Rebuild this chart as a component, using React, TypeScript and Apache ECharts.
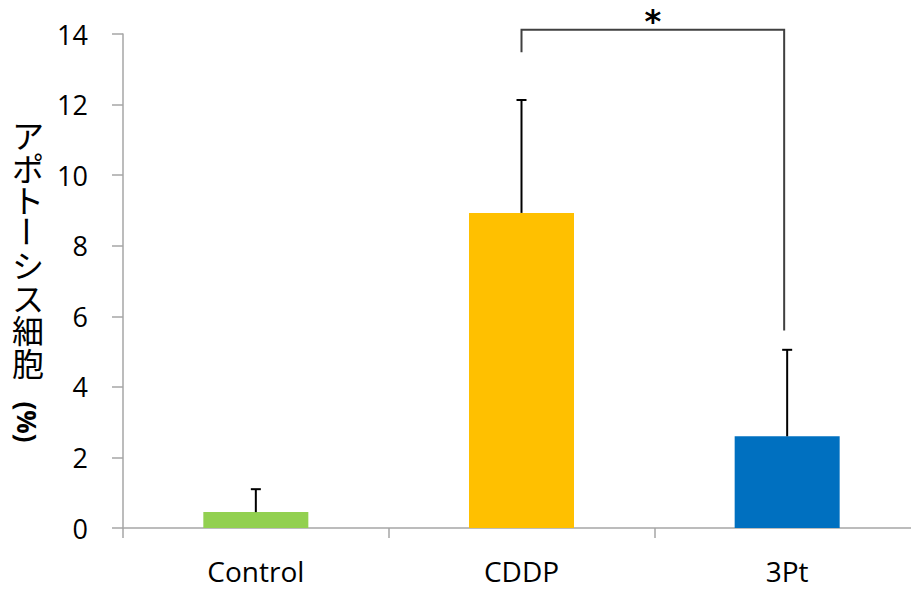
import React, { useEffect, useRef } from "react";
import * as echarts from "echarts";

const categories = ["Control", "CDDP", "3Pt"];
const values = [0.45, 8.93, 2.6];
const errorTops = [1.1, 12.13, 5.05];
const barColors = ["#92D050", "#FFC000", "#0070C0"];
const yTicks = { min: 0, max: 14, interval: 2 };
// bracket: from category 1 to category 2, top level, left foot, right foot
const bracket = [[1, 2, 14.12, 13.48, 5.6]];
const bracketLabel = "*";
// vertical-writing title, split around the long-vowel mark which is turned upright
const yTitleTop = ["ア", "ポ", "ト"];
const yTitleMark = "ー";
const yTitleBottom = ["シ", "ス", "細", "胞"];
const yTitleUnit = "(%)";

export default function App() {
  const ref = useRef<HTMLDivElement>(null);
  useEffect(() => {
    if (!ref.current) return;
    const chart = echarts.init(ref.current, null, { renderer: "svg" });
    const step = 32.5;
    const y0 = 134;
    const jp = {
      fontSize: 32,
      lineHeight: step,
      fontFamily: "Noto Sans CJK JP",
      fill: "#000",
      align: "center",
    };
    const titleEls: any[] = [
      {
        type: "text",
        x: 28,
        y: y0 - step / 2,
        style: { ...jp, text: yTitleTop.join("\n"), verticalAlign: "top" },
      },
      {
        type: "text",
        x: 28,
        y: y0 + step * yTitleTop.length,
        rotation: -Math.PI / 2,
        style: { ...jp, text: yTitleMark, lineHeight: 26, verticalAlign: "middle" },
      },
      {
        type: "text",
        x: 28,
        y: y0 + step * (yTitleTop.length + 1) - step / 2,
        style: { ...jp, text: yTitleBottom.join("\n"), verticalAlign: "top" },
      },
      {
        type: "text",
        x: 27,
        y: 422,
        rotation: -Math.PI / 2,
        style: {
          text: yTitleUnit,
          fontSize: 26,
          fontWeight: "bold",
          fontFamily: "Open Sans",
          fill: "#000",
          align: "center",
          verticalAlign: "middle",
        },
      },
    ];
    chart.setOption({
      animation: false,
      grid: { left: 123, right: 0, top: 34, bottom: 61 },
      graphic: titleEls,
      xAxis: {
        type: "category",
        data: categories,
        axisLine: { lineStyle: { color: "#A6A6A6", width: 1.5 } },
        axisTick: { show: true, length: 10, lineStyle: { color: "#A6A6A6", width: 1.5 } },
        axisLabel: { fontSize: 28, lineHeight: 28, fontFamily: "Open Sans", color: "#000", margin: 29 },
      },
      yAxis: {
        type: "value",
        min: yTicks.min,
        max: yTicks.max,
        interval: yTicks.interval,
        splitLine: { show: false },
        axisLine: { show: true, lineStyle: { color: "#A6A6A6", width: 1.5 } },
        axisTick: { show: true, length: 11, lineStyle: { color: "#A6A6A6", width: 1.5 } },
        axisLabel: { fontSize: 27, fontFamily: "Open Sans", color: "#000", margin: 35 },
      },
      series: [
        {
          type: "bar",
          barWidth: 105,
          data: values.map((v, i) => ({ value: v, itemStyle: { color: barColors[i] } })),
        },
        {
          type: "custom",
          z: 5,
          data: values.map((v, i) => [i, v, errorTops[i]]),
          encode: { x: 0, y: 2 },
          renderItem: (params: any, api: any) => {
            const base = api.coord([api.value(0), api.value(1)]);
            const top = api.coord([api.value(0), api.value(2)]);
            const st = { stroke: "#000", lineWidth: 2 };
            return {
              type: "group",
              children: [
                { type: "line", shape: { x1: base[0], y1: base[1], x2: top[0], y2: top[1] }, style: st },
                { type: "line", shape: { x1: top[0] - 5, y1: top[1], x2: top[0] + 5, y2: top[1] }, style: st },
              ],
            };
          },
        },
        {
          type: "custom",
          z: 5,
          clip: false,
          data: bracket,
          encode: { x: 0, y: 2 },
          renderItem: (params: any, api: any) => {
            const a = api.coord([api.value(0), api.value(2)]);
            const b = api.coord([api.value(1), api.value(2)]);
            const aFoot = api.coord([api.value(0), api.value(3)]);
            const bFoot = api.coord([api.value(1), api.value(4)]);
            const bx = b[0] - 3;
            const st = { stroke: "#404040", lineWidth: 2, fill: "none" };
            return {
              type: "group",
              children: [
                {
                  type: "polyline",
                  shape: { points: [[a[0], aFoot[1]], [a[0], a[1]], [bx, a[1]], [bx, bFoot[1]]] },
                  style: st,
                },
                {
                  type: "text",
                  x: (a[0] + bx) / 2,
                  y: a[1] - 9,
                  style: {
                    text: bracketLabel,
                    fontSize: 32,
                    fontWeight: "bold",
                    fontFamily: "DejaVu Sans",
                    fill: "#000",
                    align: "center",
                    verticalAlign: "middle",
                  },
                },
              ],
            };
          },
        },
      ],
    });
    return () => chart.dispose();
  }, []);
  return (
    <div style={{ position: "absolute", left: 0, top: 0, width: 911, height: 589, overflow: "hidden" }}>
      <div ref={ref} style={{ width: 920, height: 589 }} />
    </div>
  );
}
